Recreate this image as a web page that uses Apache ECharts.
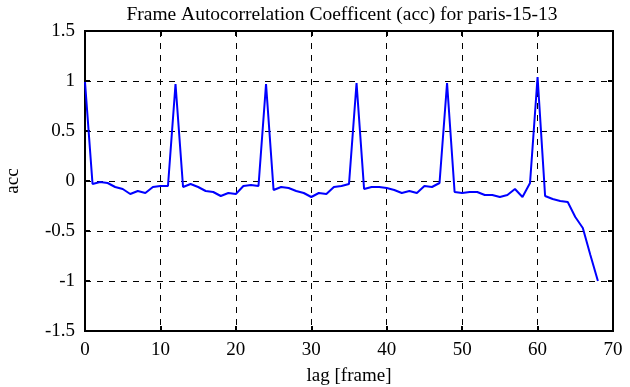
<!DOCTYPE html>
<html><head><meta charset="utf-8">
<script src="https://cdn.jsdelivr.net/npm/echarts@6/dist/echarts.min.js"></script>
<style>html,body{margin:0;padding:0;background:#fff}#c{width:630px;height:387px}</style>
</head><body><div id="c"></div>
<script>
const lags = [];
for (let i = 0; i <= 68; i++) lags.push(i);
const acc = [0.99,-0.03,-0.01,-0.02,-0.06,-0.08,-0.13,-0.10,-0.12,-0.06,
 -0.05,-0.05,0.97,-0.06,-0.03,-0.06,-0.10,-0.11,-0.15,-0.12,
 -0.13,-0.05,-0.04,-0.05,0.97,-0.09,-0.06,-0.07,-0.10,-0.12,
 -0.16,-0.12,-0.13,-0.06,-0.05,-0.03,0.98,-0.08,-0.06,-0.06,
 -0.07,-0.09,-0.12,-0.10,-0.12,-0.05,-0.06,-0.02,0.98,-0.11,
 -0.12,-0.11,-0.11,-0.14,-0.14,-0.16,-0.14,-0.08,-0.16,-0.02,
 1.04,-0.15,-0.18,-0.20,-0.21,-0.36,-0.47,-0.74,-1.0];
const titleText = 'Frame Autocorrelation Coefficent (acc) for paris-15-13';
const xName = 'lag [frame]';
const yName = 'acc';
const font = 'Liberation Serif';
const chart = echarts.init(document.getElementById('c'));
const axisLine = () => ({show: true, onZero: false, lineStyle: {color: '#000', width: 2}});
const tick = () => ({show: true, inside: true, length: 5, lineStyle: {color: '#000', width: 2}});
const split = () => ({show: true, lineStyle: {color: '#000', width: 1, type: [6, 6]}});
chart.setOption({
  animation: false,
  title: {text: titleText, left: 337, top: 0, textAlign: 'center',
    textStyle: {fontFamily: font, fontSize: 19.5, fontWeight: 'normal', color: '#000'}},
  grid: {left: 85, right: 17, top: 31, bottom: 56, containLabel: false, outerBoundsMode: 'none',
    show: true, borderColor: '#000', borderWidth: 2, backgroundColor: 'transparent'},
  xAxis: [{type: 'value', min: 0, max: 70, interval: 10, name: xName, nameLocation: 'middle', nameGap: 36,
    nameTextStyle: {fontFamily: font, fontSize: 19, color: '#000'},
    axisLine: axisLine(), axisTick: tick(), splitLine: split(),
    axisLabel: {fontFamily: font, fontSize: 19, color: '#000', margin: 10}},
   {type: 'value', position: 'top', min: 0, max: 70, interval: 10, axisLine: axisLine(), axisTick: tick(),
    splitLine: {show: false}, axisLabel: {show: false}}],
  yAxis: [{type: 'value', min: -1.5, max: 1.5, interval: 0.5, name: yName, nameLocation: 'middle', nameGap: 62,
    nameTextStyle: {fontFamily: font, fontSize: 19, color: '#000'},
    axisLine: axisLine(), axisTick: tick(), splitLine: split(),
    axisLabel: {fontFamily: font, fontSize: 19, color: '#000', margin: 10}},
   {type: 'value', position: 'right', min: -1.5, max: 1.5, interval: 0.5, axisLine: axisLine(), axisTick: tick(),
    splitLine: {show: false}, axisLabel: {show: false}}],
  series: [{type: 'line', data: lags.map((l, i) => [l, acc[i]]), showSymbol: false,
    lineStyle: {color: '#0000ff', width: 2}, itemStyle: {color: '#0000ff'}}]
});
</script></body></html>
